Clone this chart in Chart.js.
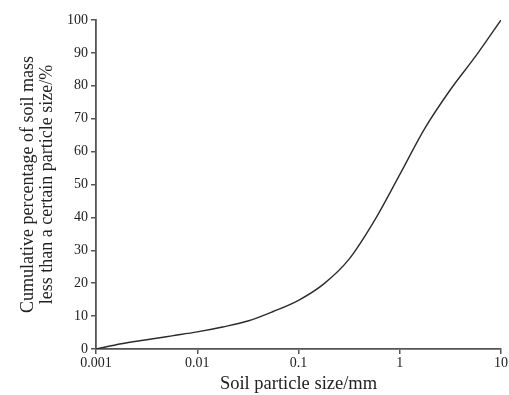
<!DOCTYPE html>
<html lang="en">
<head>
<meta charset="UTF-8">
<title>Soil particle size distribution</title>
<script src="https://cdn.jsdelivr.net/npm/chart.js"></script>
<style>
  html, body { margin: 0; padding: 0; background: #fff; overflow: hidden; }
  #wrap { width: 509px; height: 395px; }
</style>
</head>
<body>
<div id="wrap"><canvas id="grading"></canvas></div>
<script>
// particle size (mm) and cumulative % passing (quarter-decade steps)
const particleSize = [0.001, 0.00178, 0.00316, 0.00562, 0.01, 0.0178, 0.0316, 0.0562, 0.1,
                      0.178, 0.316, 0.562, 1, 1.78, 3.16, 5.62, 10];
const percentFiner = [0, 1.6, 2.8, 4.0, 5.2, 6.7, 8.5, 11.4, 14.8,
                      19.8, 27.3, 39.0, 53.0, 67.2, 78.8, 89.0, 100];
const xTickValues = [0.001, 0.01, 0.1, 1, 10];
const xTickLabels = ['0.001', '0.01', '0.1', '1', '10'];

const points = particleSize.map((s, i) => ({ x: s, y: percentFiner[i] }));
const serif = "'Liberation Serif', 'DejaVu Serif', serif";

new Chart(document.getElementById('grading'), {
    type: 'line',
    data: {
        datasets: [{
            data: points,
            borderColor: '#2b2b2b',
            borderWidth: 1.4,
            pointRadius: 0,
            cubicInterpolationMode: 'monotone',
            fill: false
        }]
    },
    options: {
        responsive: true,
        maintainAspectRatio: false,
        animation: false,
        layout: { padding: { top: 20, right: 0, bottom: 0, left: 0 } },
        plugins: { legend: { display: false }, tooltip: { enabled: false } },
        scales: {
            x: {
                type: 'logarithmic',
                min: 0.001,
                max: 10,
                afterBuildTicks: (scale) => {
                    scale.ticks = xTickValues.map(v => ({ value: v }));
                },
                ticks: {
                    color: '#222',
                    font: { family: serif, size: 14 },
                    padding: 1,
                    maxRotation: 0,
                    autoSkip: false,
                    callback: (v) => {
                        const i = xTickValues.indexOf(v);
                        return i >= 0 ? xTickLabels[i] : '';
                    }
                },
                grid: { drawOnChartArea: false, drawTicks: true, tickLength: 5, color: '#555', lineWidth: 1.5 },
                border: { color: '#555', width: 1.8 },
                title: {
                    display: true,
                    text: 'Soil particle size/mm',
                    color: '#222',
                    font: { family: serif, size: 18.5 },
                    padding: { top: 0, bottom: 0 }
                },
                afterFit: (scale) => { scale.height = 46; }
            },
            y: {
                min: 0,
                max: 100,
                ticks: {
                    stepSize: 10,
                    color: '#222',
                    font: { family: serif, size: 14 },
                    padding: 3
                },
                grid: { drawOnChartArea: false, drawTicks: true, tickLength: 5, color: '#555', lineWidth: 1.5 },
                border: { color: '#555', width: 1.8 },
                title: {
                    display: true,
                    text: ['Cumulative percentage of soil mass', 'less than a certain particle size/%'],
                    color: '#222',
                    font: { family: serif, size: 18, lineHeight: 1.05 },
                    padding: { top: 19, bottom: 4 }
                },
                afterFit: (scale) => { scale.width = 96; }
            }
        }
    }
});
</script>
</body>
</html>
